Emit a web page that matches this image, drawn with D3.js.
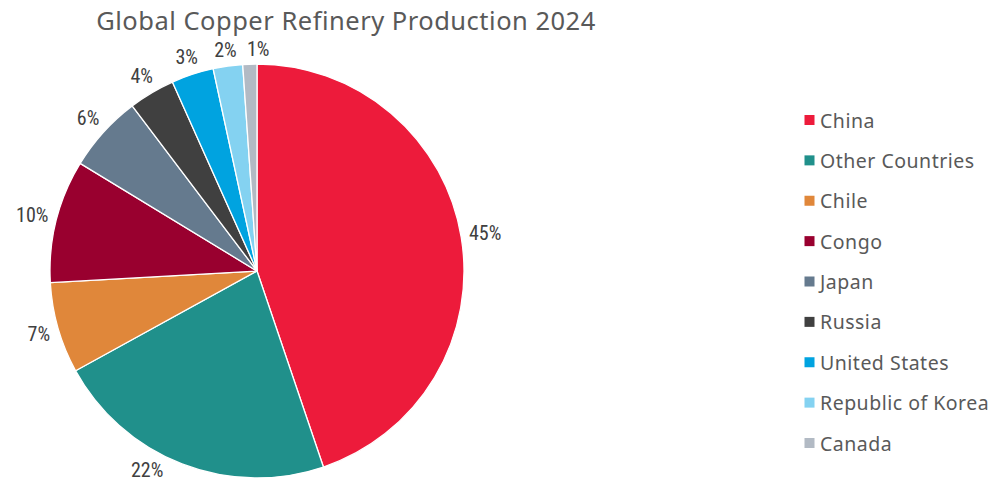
<!DOCTYPE html>
<html><head><meta charset="utf-8">
<script src="https://cdn.jsdelivr.net/npm/d3@7"></script>
<style>body{margin:0;background:#fff}svg{display:block}</style>
</head><body>
<svg id="c" width="1000" height="484"></svg>
<script>
const title = "Global Copper Refinery Production 2024";
const categories = ["China","Other Countries","Chile","Congo","Japan","Russia","United States","Republic of Korea","Canada"];
const values = [44.8, 22.2, 7.1, 9.6, 6.0, 3.6, 3.3, 2.3, 1.1];
const colors = ["#ED1B3B","#20908B","#E0873A","#99002F","#657A8E","#404040","#00A3E0","#84D2F1","#B2BAC4"];

const svg = d3.select("#c");
const W = 1000, H = 484;
const cx = 257, cy = 271, R = 207;

svg.append("text").attr("x", 346).attr("y", 30).attr("text-anchor","middle")
  .attr("font-family","'Noto Sans', sans-serif").attr("font-size", 25.5)
  .attr("letter-spacing", 0.5).attr("fill","#595959")
  .text(title);

const data = categories.map((c,i)=>({name:c, value:values[i]}));
const pie = d3.pie().value(d=>d.value).sort(null);
const arcs = pie(data);
const arc = d3.arc().innerRadius(0).outerRadius(R);
const color = d3.scaleOrdinal().domain(categories).range(colors);

const g = svg.append("g").attr("transform",`translate(${cx},${cy})`);
g.selectAll("path").data(arcs).join("path")
  .attr("d", arc).attr("fill", d=>color(d.data.name))
  .attr("stroke","#fff").attr("stroke-width",1.3).attr("stroke-linejoin","round");

const total = d3.sum(values);
const fmt = v => Math.round(v/total*100) + "%";
const lbl = g.selectAll("text.lbl").data(arcs).join("text").attr("class","lbl")
  .attr("font-family","'Liberation Sans Narrow','Roboto Condensed','Liberation Sans',sans-serif")
  .attr("font-size",20).attr("fill","#404040")
  .attr("text-anchor","middle").attr("dominant-baseline","central")
  .text(d=>fmt(d.data.value));

const placed = [];
function posAt(a, w, h){
  const s = Math.sin(a), c = -Math.cos(a);
  const ext = Math.abs(s)*w/2 + Math.abs(c)*(h/2 - 4);
  const r = R + 7 + ext;
  let x = r*s, y = r*c;
  const ymax = H - 14 - cy;
  if (y > ymax) { y = ymax; x = Math.sign(s) * Math.sqrt(r*r - y*y); }
  return [x, y];
}
function overlaps(x, y, w, h){
  return placed.some(p => Math.abs(p.x - x) < (p.w + w)/2 + 10 && Math.abs(p.y - y) < (p.h + h)/2 - 4);
}
lbl.each(function(d){
  const bb = this.getBBox();
  const w = bb.width, h = bb.height;
  let a = (d.startAngle + d.endAngle)/2;
  let [x, y] = posAt(a, w, h);
  let n = 0;
  while (overlaps(x, y, w, h) && n < 300) { a += 0.005; [x, y] = posAt(a, w, h); n++; }
  placed.push({x, y, w, h});
  d3.select(this).attr("x", x).attr("y", y);
});

const legend = svg.append("g");
const ly = d3.scalePoint().domain(categories).range([120, 443]);
const li = legend.selectAll("g").data(categories).join("g")
  .attr("transform", d=>`translate(804.5,${ly(d)})`);
li.append("rect").attr("x",0).attr("y",-5).attr("width",10).attr("height",10).attr("fill", d=>color(d));
li.append("text").attr("x",15.5).attr("y",0).attr("dominant-baseline","central")
  .attr("font-family","'Noto Sans', sans-serif").attr("font-size",19.5)
  .attr("letter-spacing",0.5).attr("fill","#595959")
  .text(d=>d);
</script>
</body></html>
